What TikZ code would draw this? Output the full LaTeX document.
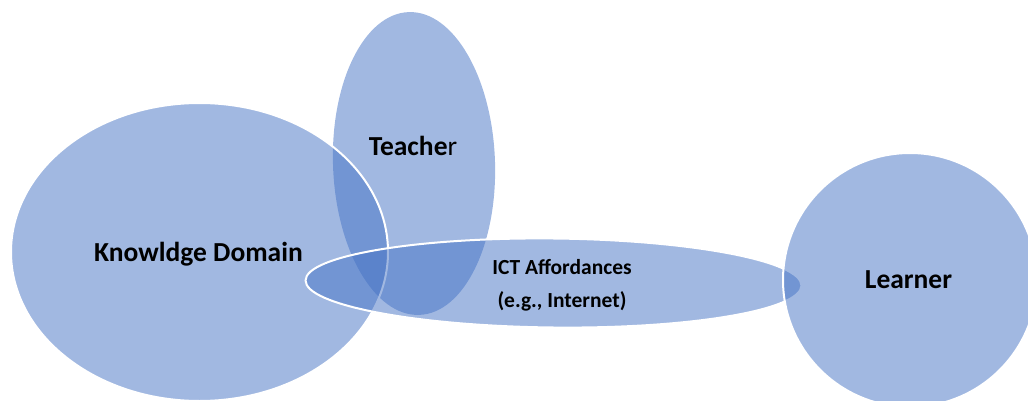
\documentclass[tikz,border=0pt]{standalone}
\usepackage{fontspec}
\setmainfont{Carlito}
\begin{document}
\begin{tikzpicture}[x=1pt,y=-1pt,
  bubble/.style={fill={rgb,255:red,68;green,114;blue,196}, fill opacity=0.5},
  rim/.style={draw=white, line width=2pt},
  label/.style={font=\fontsize{27.5}{33}\selectfont\bfseries, text=black, inner sep=0pt},
  smalllabel/.style={font=\fontsize{21.5}{33}\selectfont\bfseries, text=black, inner sep=0pt, align=center}]
\useasboundingbox (0,0) rectangle (1028,401);
\clip (0,0) rectangle (1028,401);
% Teacher
\path[bubble, shift={(414,163.5)}, rotate=2] (0,0) ellipse [x radius=81pt, y radius=151.5pt];
% Knowledge domain
\path[bubble, rim] (199.5,252) ellipse [x radius=188.5pt, y radius=149pt];
% ICT affordances
\path[bubble, rim, shift={(553.5,283)}, rotate=-0.6] (0,0) ellipse [x radius=248pt, y radius=44.5pt];
% Learner
\path[bubble, rim] (910,280) circle [radius=127pt];
% Labels
\node[label] (kd) at (198.5,254) {Knowldge Domain};
\node[label] (te) at (413,146) {\textbf{Teache}\mdseries r};
\node[smalllabel] (ict) at (562,285) {ICT Affordances\\(e.g., Internet)};
\node[label] (le) at (908.5,280) {Learner};
\end{tikzpicture}
\end{document}
